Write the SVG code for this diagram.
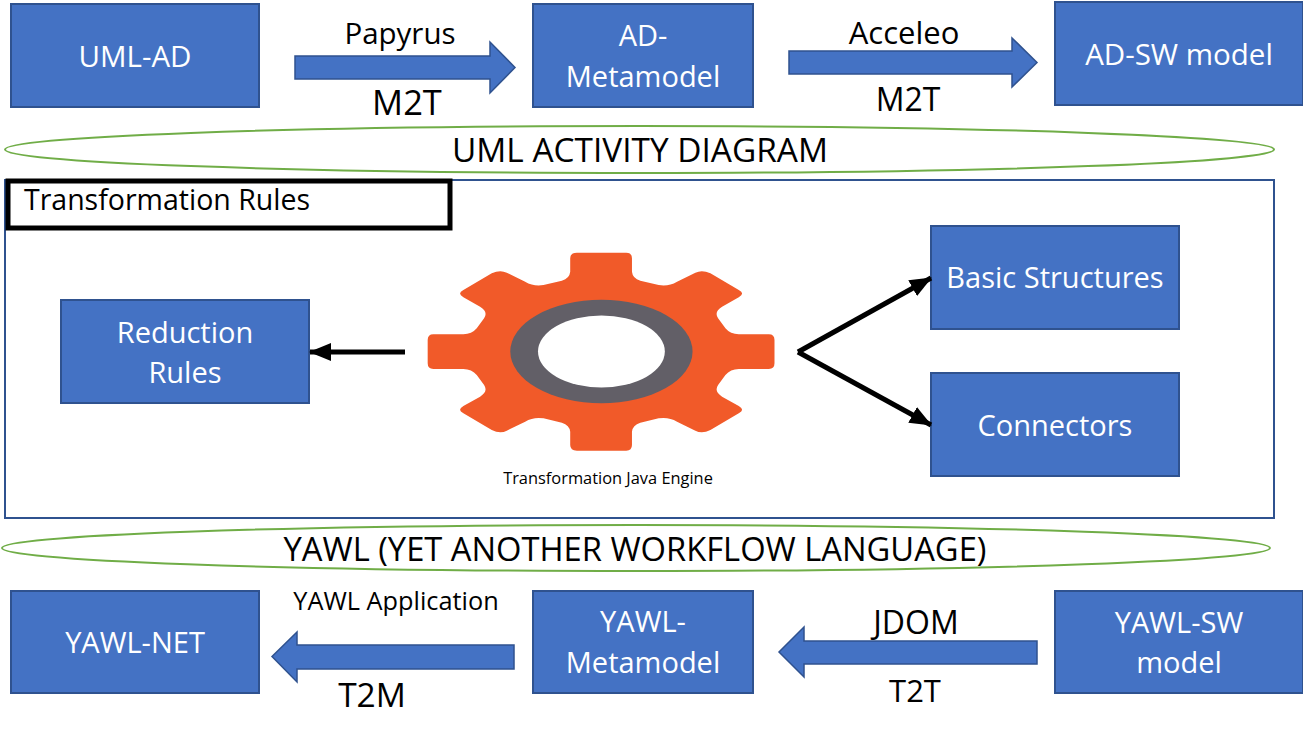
<svg xmlns="http://www.w3.org/2000/svg" width="1303" height="740" viewBox="0 0 1303 740">
<style>
text{font-family:"Open Sans","Noto Sans","Liberation Sans",sans-serif;text-anchor:middle;fill:#000}
.box{fill:#4472c4;stroke:#2f528f;stroke-width:2}
.bt{fill:#fff;font-size:29px}
.arrow{fill:#4472c4;stroke:#2f528f;stroke-width:1.5}
.ell{fill:#fff;stroke:#70ad47;stroke-width:2}
.conn{stroke:#000;stroke-width:5;fill:none;marker-end:url(#ah)}
</style>
<defs><marker id="ah" markerUnits="userSpaceOnUse" markerWidth="22" markerHeight="18" refX="21" refY="9" orient="auto"><path d="M0 0L22 9L0 18Z" fill="#000"/></marker></defs>
<rect width="1303" height="740" fill="#fff"/>
<g id="frame"><rect x="5" y="180" width="1269" height="338" fill="#fff" stroke="#2f528f" stroke-width="2"/></g>
<g id="uml-band"><ellipse class="ell" cx="639.500" cy="149.500" rx="634.500" ry="23.500"/><text x="640" y="162" font-size="33.400">UML ACTIVITY DIAGRAM</text></g>
<g id="yawl-band"><ellipse class="ell" cx="636" cy="548" rx="634" ry="23"/><text x="635" y="561" font-size="32.700">YAWL (YET ANOTHER WORKFLOW LANGUAGE)</text></g>
<g id="rules-title"><rect x="8" y="181" width="442" height="47" fill="#fff" stroke="#000" stroke-width="5"/><text x="167" y="210" font-size="28.500">Transformation Rules</text></g>
<g id="uml-ad"><rect class="box" x="11" y="4" width="248" height="103"/><text class="bt" x="135" y="67" style="font-size:29.500px">UML-AD</text></g>
<g id="ad-metamodel"><rect class="box" x="533" y="4" width="220" height="103"/><text class="bt" x="643" y="46">AD-</text><text class="bt" x="643" y="87">Metamodel</text></g>
<g id="ad-sw"><rect class="box" x="1055" y="2" width="248" height="103"/><text class="bt" x="1179" y="65" style="font-size:29.500px">AD-SW model</text></g>
<g id="reduction"><rect class="box" x="61" y="300" width="248" height="103"/><text class="bt" x="185" y="343">Reduction</text><text class="bt" x="185" y="383">Rules</text></g>
<g id="basic"><rect class="box" x="931" y="226" width="248" height="103"/><text class="bt" x="1055" y="288">Basic Structures</text></g>
<g id="connectors"><rect class="box" x="931" y="373" width="248" height="103"/><text class="bt" x="1055" y="436">Connectors</text></g>
<g id="yawl-net"><rect class="box" x="11" y="591" width="248" height="102"/><text class="bt" x="135" y="653">YAWL-NET</text></g>
<g id="yawl-metamodel"><rect class="box" x="533" y="591" width="220" height="102"/><text class="bt" x="643" y="632">YAWL-</text><text class="bt" x="643" y="673">Metamodel</text></g>
<g id="yawl-sw"><rect class="box" x="1055" y="591" width="248" height="102"/><text class="bt" x="1179" y="633">YAWL-SW</text><text class="bt" x="1179" y="673">model</text></g>
<g id="engine">
<g transform="translate(420 240) scale(.3338 .3333)">
<path fill="#f15a29" d="M470 38L618 38Q635 38 635 55L635 95Q637 115 660 122L715 135Q745 140 770 125L825 98Q845 88 870 100L955 150Q975 160 955 172L905 200Q880 215 893 235L915 265Q930 283 955 283L1045 283Q1062 283 1062 300L1062 370Q1062 387 1045 387L955 387Q930 387 915 405L893 435Q880 455 905 470L955 498Q975 510 955 520L870 570Q845 582 825 572L770 545Q745 530 715 535L660 548Q637 555 635 575L635 615Q635 632 618 632L470 632Q450 632 450 615L450 575Q448 555 425 548L370 535Q340 530 315 545L260 572Q240 582 215 570L130 520Q110 510 130 498L180 470Q205 455 192 435L170 405Q155 387 130 387L40 387Q23 387 23 370L23 300Q23 283 40 283L130 283Q155 283 170 265L192 235Q205 215 180 200L130 172Q110 160 130 150L215 100Q240 88 260 98L315 125Q340 140 370 135L425 122Q448 115 450 95L450 55Q450 38 470 38Z"/>
<ellipse cx="543.500" cy="334.500" rx="273" ry="155" fill="#625f67"/>
<ellipse cx="543.500" cy="334.500" rx="190" ry="108" fill="#fff"/>
</g>
<text x="608" y="484" font-size="16.400">Transformation Java Engine</text>
</g>
<g id="connectors-group">
<path class="arrow" d="M295 56H490V42L515 67.500L490 93V79H295Z"/>
<path class="arrow" d="M789 51H1012V38L1037 62.500L1012 87V74H789Z"/>
<path class="arrow" d="M514 645H297V632L272 656.500L297 682V669H514Z"/>
<path class="arrow" d="M1037 641H804V627L779 652L804 677V664H1037Z"/>
<path class="conn" d="M405 352H310"/>
<path class="conn" d="M798 352L931 278"/>
<path class="conn" d="M798 352L931 425"/>
</g>
<g id="labels">
<text x="400" y="44" font-size="29.500">Papyrus</text>
<text x="407" y="115" font-size="34.500">M2T</text>
<text x="904" y="44" font-size="31">Acceleo</text>
<text x="908" y="111" font-size="32">M2T</text>
<text x="396" y="610" font-size="25.300">YAWL Application</text>
<text x="372" y="707" font-size="33.500">T2M</text>
<text x="916" y="634" font-size="32">JDOM</text>
<text x="915" y="702" font-size="31">T2T</text>
</g>
</svg>
